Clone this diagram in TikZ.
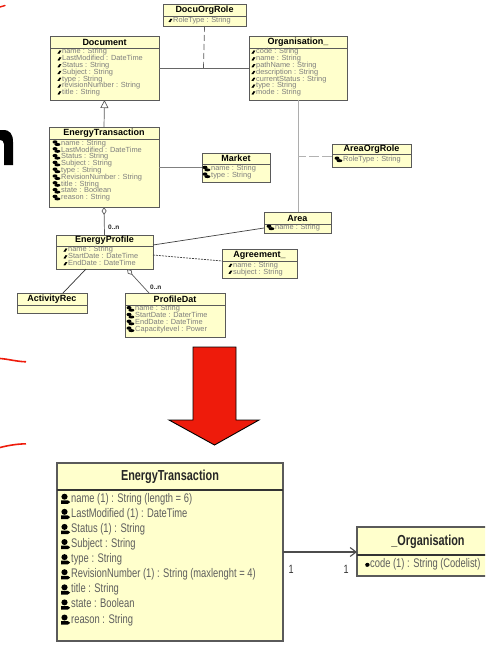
\documentclass[tikz,border=0pt]{standalone}
\usepackage{fontspec}
\setmainfont{Liberation Sans}
\newfontfamily\narrowsans{Liberation Sans}[FakeStretch=0.75]
\usetikzlibrary{arrows.meta,calc}

\definecolor{classfill}{HTML}{FFFFCC}
\definecolor{classline}{HTML}{5A5A5A}
\definecolor{attrgray}{HTML}{7E7E7E}
\definecolor{bigattrgray}{HTML}{5E5E5E}
\definecolor{arrowred}{HTML}{EE1B0B}

\tikzset{
  x=1pt, y=-1pt,
  classbox/.style={draw=classline, fill=classfill, line width=0.8pt, inner sep=0pt, outer sep=0pt, rectangle},
  sepline/.style={draw=classline, line width=0.8pt},
  titletext/.style={inner sep=0pt, font=\fontsize{9}{9}\selectfont\bfseries, text=black},
  attrtext/.style={inner sep=0pt, font=\fontsize{7.4}{7.4}\selectfont, text=attrgray, text height=5.3pt, text depth=1.5pt},
  bigbox/.style={draw=classline, fill=classfill, line width=1.3pt, inner sep=0pt, outer sep=0pt, rectangle},
  bigsep/.style={draw=black!80, line width=1.8pt},
  bigtitle/.style={inner sep=0pt, font=\narrowsans\fontsize{14.5}{14.5}\selectfont\bfseries, text=black!85},
  bigattr/.style={inner sep=0pt, font=\narrowsans\fontsize{12.5}{12.5}\selectfont, text=bigattrgray, text height=9pt, text depth=2.6pt},
  mult/.style={inner sep=0pt, font=\fontsize{6.5}{6.5}\selectfont\bfseries, text=black!85},
  bigmult/.style={inner sep=0pt, font=\narrowsans\fontsize{12}{12}\selectfont, text=black!80},
  assoc/.style={draw=classline, line width=0.7pt},
  aggr/.style={assoc, -{Diamond[open, fill=white, length=8pt, width=5pt]}},
  generalise/.style={assoc, -{Triangle[open, fill=white, length=8pt, width=8pt]}},
  icA/.pic={\fill (-4.6,1.6) -- (-2.4,-1.6) -- (-0.6,-1.4) -- (-2.6,1.8) -- cycle;},
  icB/.pic={\fill (-6,-1.3) ellipse (2.5pt and 1.7pt); \fill (-3.6,1.2) ellipse (3pt and 1.5pt);},
  icC/.pic={\fill (-6.5,-2.3) ellipse (3.1pt and 3pt);
            \fill (-10,1.3) -- (-3.2,1.3) -- (-0.8,3) -- (-3.2,4.9) -- (-10,4.9) -- cycle;},
  icD/.pic={\fill (-2.6,0.3) ellipse (2.2pt and 2pt); \fill (-4.2,2.2) -- (-2.6,0) -- (-1.5,1.2) -- cycle;},
}

% class box: name, left, top, right, bottom, compartment line y, title, box style, line style, title style
\newcommand\umlclass[7]{%
  \node[classbox, minimum width={(#4-#2)*1pt}, minimum height={(#5-#3)*1pt}, anchor=north west] (#1) at (#2,#3) {};
  \draw[sepline] (#1.west |- 0,#6) -- (#1.east |- 0,#6);
  \node[titletext] (#1-title) at ({(#2+#4)/2},{(#3+#6)/2}) {#7};
}
% attribute list: box name, text style, icon, text x, first y, line step, entries
\newcommand\attrlist[7]{%
  \foreach \t [count=\i from 0] in {#7}{%
    \node[#2, anchor=west] (#1-a\i) at (#4,{#5+\i*#6}) {\t};
    \pic at (#1-a\i.west) {#3};
  }%
}

\begin{document}
\begin{tikzpicture}
\useasboundingbox (0,0) rectangle (485,648);
\clip (0,0) rectangle (485,648);

% ---------- upper model ----------
\umlclass{docu}{163}{4}{246}{26}{16}{DocuOrgRole}
\attrlist{docu}{attrtext}{icA}{173}{20.3}{6.8}{RoleType : String}

\umlclass{doc}{50}{36}{159}{100}{48}{Document}
\attrlist{doc}{attrtext}{icA}{62}{52}{6.8}{name : String, LastModified : DateTime, Status : String, Subject : String, type : String, revisionNumber : String, title : String}

\umlclass{org}{249}{36}{347}{100}{48}{Organisation\_}
\attrlist{org}{attrtext}{icA}{256}{52}{6.8}{code : String, name : String, pathName : String, description : String, currentStatus : String, type : String, mode : String}

\umlclass{et}{49}{127}{159}{207}{139}{EnergyTransaction}
\attrlist{et}{attrtext}{icB}{61}{143.3}{6.8}{name : String, LastModified : DateTime, Status : String, Subject : String, type : String, RevisionNumber : String, title : String, state : Boolean, reason : String}

\umlclass{mkt}{202}{153}{270}{182}{164}{Market}
\attrlist{mkt}{attrtext}{icB}{211}{168.7}{6.7}{name : String, type : String}

\umlclass{aor}{332}{144}{411}{167}{154}{AreaOrgRole}
\attrlist{aor}{attrtext}{icB}{343}{159.5}{6.8}{RoleType : String}

\umlclass{area}{264}{212}{331}{233}{224}{Area}
\attrlist{area}{attrtext}{icB}{275}{227.5}{6.8}{name : String}

\umlclass{ep}{56}{235}{153}{269}{246}{EnergyProfile}
\attrlist{ep}{attrtext}{icA}{68}{250}{6.8}{name : String, StartDate : DateTime, EndDate : DateTime}

\umlclass{agr}{222}{249}{297}{278}{261}{Agreement\_}
\attrlist{agr}{attrtext}{icA}{233}{265.3}{6.8}{name : String, subject : String}

\umlclass{act}{17}{293}{87}{313}{305}{ActivityRec}

\umlclass{pd}{125}{293}{225}{337}{305}{ProfileDat}
\attrlist{pd}{attrtext}{icB}{135}{309}{6.8}{name : String, StartDate : DaterTime, EndDate : DateTime, Capacitylevel : Power}

% connectors of the upper model
\coordinate (docorg-mid) at (203.5,68);
\coordinate (orgarea-mid) at (298,156);
\draw[assoc, draw=black!60] (doc.east |- 0,68) -- (org.west |- 0,68);
\draw[assoc, draw=black!65, dash pattern=on 6pt off 3pt] (docu.south) -- (docorg-mid);
\draw[generalise] (et.north) -- (doc.south);
\draw[assoc, draw=black!50] (et.east |- 0,167) -- (mkt.west |- 0,167);
\draw[assoc, draw=black!32, line width=0.9pt] (org.south) -- (org.south |- area.north);
\draw[assoc, draw=black!30, line width=0.9pt, dash pattern=on 10pt off 3pt] (aor.west |- 0,156) -- (orgarea-mid);
\draw[aggr] (ep.north) -- (et.south);
\node[mult, anchor=west] (m-et-ep) at (108,227) {0..n};
\draw[assoc, draw=black!75] (area.west |- 0,228) -- (ep.east |- 0,245);
\draw[assoc, draw=black!75, dash pattern=on 2pt off 1pt] (ep.east |- 0,255) -- (agr.west |- 0,261);
\draw[assoc, draw=black!80] ([xshift=-18.5pt]ep.south) -- ([xshift=11pt]act.north);
\draw[aggr] ([xshift=-26pt]pd.north) -- ([xshift=22.5pt]ep.south);
\node[mult, anchor=west] (m-ep-pd) at (150,287) {0..n};

% ---------- red arrow and marks at the left ----------
\fill[black] (0,130) -- (3,130) .. controls (10,130) and (13,134) .. (13,142) -- (13,165) -- (4,165) -- (4,144) .. controls (4,141) and (2,140) .. (0,140) -- cycle;
\draw[arrowred, line width=1.4pt, line cap=round] (0,7) -- (5,5.5);
\draw[arrowred, line width=1.6pt] (0,358.5) .. controls (8,359) and (16,361.5) .. (26,361.8);
\draw[arrowred, line width=1.6pt] (0,447.5) .. controls (8,445.5) and (16,444) .. (26,443.8);
\draw[fill=arrowred, draw=black, line width=0.9pt, line join=miter]
  (193,347) -- (236,347) -- (236,420) -- (259,420) -- (214.5,445) -- (169,420) -- (193,420) -- cycle;

% ---------- lower model ----------
\node[bigbox, minimum width=226pt, minimum height=178pt, anchor=north west] (bet) at (57,463) {};
\draw[bigsep] (bet.west |- 0,490) -- (bet.east |- 0,490);
\node[bigtitle] (bet-title) at (170,477) {EnergyTransaction};
\attrlist{bet}{bigattr}{icC}{71}{499}{15.1}{name (1) : String (length = 6), LastModified (1) : DateTime, Status (1) : String, Subject : String, type : String, RevisionNumber (1) : String (maxlenght = 4), title : String, state : Boolean, reason : String}

\node[bigbox, minimum width=142pt, minimum height=49pt, anchor=north west] (borg) at (357,527) {};
\draw[bigsep] (borg.west |- 0,555) -- (borg.east |- 0,555);
\node[bigtitle] (borg-title) at (428,542) {\_Organisation};
\attrlist{borg}{bigattr}{icD}{370}{564.5}{15}{code (1) : String (Codelist)}

\draw[draw=black!70, line width=1.3pt, -{Straight Barb[length=6pt, width=9pt, line width=1.1pt]}] (bet.east |- 0,552) -- (borg.west |- 0,552);
\node[bigmult] (m-bet) at (291,569.5) {1};
\node[bigmult] (m-borg) at (346,569.5) {1};
\end{tikzpicture}
\end{document}
